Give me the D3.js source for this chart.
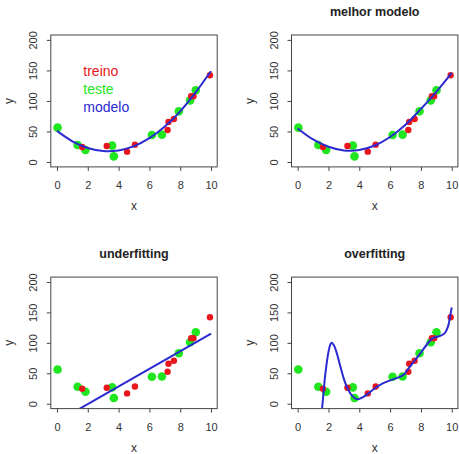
<!DOCTYPE html>
<html>
<head>
<meta charset="utf-8">
<script src="https://cdn.jsdelivr.net/npm/d3@7"></script>
<style>
    body { margin: 0; background: #fff; }
    svg { display: block; font-family: "Liberation Sans", Arial, sans-serif; }
</style>
</head>
<body>
<svg id="chart" width="459" height="454"></svg>
<script>
// dados
var treinoX = [1.64, 3.23, 4.55, 5.06, 7.18, 7.24, 7.59, 8.71, 8.86, 9.93];
var treinoY = [24.6, 26.2, 17, 28.4, 52.5, 65.6, 70.5, 107.7, 107.7, 142];
var testeX = [0.04, 1.34, 1.85, 3.58, 3.69, 6.16, 6.81, 7.91, 8.64, 9.01];
var testeY = [56.3, 27.9, 19.7, 26.8, 9.3, 44.3, 44.8, 83, 101, 117.5];

// curvas dos modelos
var modeloX = [0, 1, 2, 3, 4, 5, 6, 7, 8, 9, 10];
var modeloY = [51, 34, 23, 18, 19, 26, 39, 58, 83, 114, 149];
var melhorX = [0, 1, 2, 3, 4, 5, 6, 7, 8, 9, 10];
var melhorY = [55, 37, 25, 19, 19.5, 27, 41, 61, 87, 115, 146];
var underX = [0, 10];
var underY = [-29.5, 115];
var overX = [1.5, 1.58, 1.66, 1.75, 1.84, 1.99, 2.1, 2.2, 2.35, 2.53, 2.74, 2.96, 3.22, 3.5, 3.75, 3.95, 4.25, 4.6, 5.1, 5.66, 6.2, 6.85, 7.2, 7.6, 8.0, 8.5, 8.8, 9.2, 9.55, 9.76, 9.9, 10];
var overY = [-34, -9, 13, 38, 58, 84, 96, 100, 96, 84, 64, 44, 26, 14, 8.5, 7.5, 11, 17, 27, 35, 40, 47, 58, 71, 84, 101, 108, 111, 116, 127, 144, 158];

var xTicks = [0, 2, 4, 6, 8, 10];
var yTicks = [0, 50, 100, 150, 200];
var titulos = ['', 'melhor modelo', 'underfitting', 'overfitting'];
var legendaLabels = ['treino', 'teste', 'modelo'];

var cores = {
    treino: '#e8161c',
    teste: '#1fe61f',
    modelo: '#2a2ad0',
    texto: '#333',
    caixa: '#444'
};

var paineis = [
    { left: 50.8, right: 217.2, top: 35, bottom: 166.9, cx: modeloX, cy: modeloY, legenda: true },
    { left: 291.5, right: 457.9, top: 35, bottom: 166.9, cx: melhorX, cy: melhorY },
    { left: 50.8, right: 217.2, top: 277.1, bottom: 408.6, cx: underX, cy: underY },
    { left: 291.5, right: 457.9, top: 277.1, bottom: 408.6, cx: overX, cy: overY }
];

var svg = d3.select('#chart');

var desenhaPainel = function (p, i) {
    var x = d3.scaleLinear().domain([-0.4, 10.4]).range([p.left, p.right]),
        y = d3.scaleLinear().domain([-8, 208]).range([p.bottom, p.top]),
        g = svg.append('g'),
        clipId = 'clip' + i;

    g.append('clipPath')
        .attr('id', clipId)
        .append('rect')
        .attr('x', p.left)
        .attr('y', p.top)
        .attr('width', p.right - p.left)
        .attr('height', p.bottom - p.top);

    // eixos
    var ax = g.append('g')
        .attr('transform', 'translate(0,' + p.bottom + ')')
        .call(d3.axisBottom(x).tickValues(xTicks).tickSize(4).tickSizeOuter(0).tickPadding(0));
    ax.select('.domain').remove();
    ax.selectAll('line').attr('stroke', cores.caixa);
    ax.selectAll('text')
        .attr('y', 22)
        .attr('dy', 0)
        .attr('fill', cores.texto)
        .attr('font-size', 11);

    var ay = g.append('g')
        .attr('transform', 'translate(' + p.left + ',0)')
        .call(d3.axisLeft(y).tickValues(yTicks).tickSize(4).tickSizeOuter(0));
    ay.select('.domain').remove();
    ay.selectAll('line').attr('stroke', cores.caixa);
    ay.selectAll('text')
        .attr('x', 0)
        .attr('y', 0)
        .attr('dy', '0.35em')
        .attr('text-anchor', 'middle')
        .attr('transform', 'translate(-17.5,0) rotate(-90)')
        .attr('fill', cores.texto)
        .attr('font-size', 11);
    g.selectAll('.tick text').attr('font-family', null);

    // rotulos
    g.append('text')
        .attr('x', (p.left + p.right) / 2)
        .attr('y', p.bottom + 43)
        .attr('text-anchor', 'middle')
        .attr('font-size', 12)
        .attr('fill', cores.texto)
        .text('x');
    g.append('text')
        .attr('transform', 'translate(' + (p.left - 38) + ',' + ((p.top + p.bottom) / 2) + ') rotate(-90)')
        .attr('text-anchor', 'middle')
        .attr('font-size', 12)
        .attr('fill', cores.texto)
        .text('y');

    if (titulos[i]) {
        g.append('text')
            .attr('x', (p.left + p.right) / 2)
            .attr('y', p.top - 19.5)
            .attr('text-anchor', 'middle')
            .attr('font-size', 12.5)
            .attr('font-weight', 'bold')
            .attr('fill', '#222')
            .text(titulos[i]);
    }

    // pontos
    g.selectAll('circle.teste')
        .data(d3.range(testeX.length))
        .enter()
        .append('circle')
        .attr('class', 'teste')
        .attr('cx', function (k) { return x(testeX[k]); })
        .attr('cy', function (k) { return y(testeY[k]); })
        .attr('r', 4.3)
        .attr('fill', cores.teste);
    g.selectAll('circle.treino')
        .data(d3.range(treinoX.length))
        .enter()
        .append('circle')
        .attr('class', 'treino')
        .attr('cx', function (k) { return x(treinoX[k]); })
        .attr('cy', function (k) { return y(treinoY[k]); })
        .attr('r', 3.2)
        .attr('fill', cores.treino);

    // curva do modelo
    var linha = d3.line()
        .x(function (k) { return x(p.cx[k]); })
        .y(function (k) { return y(p.cy[k]); })
        .curve(d3.curveCatmullRom.alpha(0.5));
    g.append('path')
        .datum(d3.range(p.cx.length))
        .attr('clip-path', 'url(#' + clipId + ')')
        .attr('d', linha)
        .attr('fill', 'none')
        .attr('stroke', cores.modelo)
        .attr('stroke-width', 2);

    // caixa
    g.append('rect')
        .attr('x', p.left)
        .attr('y', p.top)
        .attr('width', p.right - p.left)
        .attr('height', p.bottom - p.top)
        .attr('fill', 'none')
        .attr('stroke', cores.caixa)
        .attr('stroke-width', 1);

    if (p.legenda) {
        var corLegenda = [cores.treino, cores.teste, cores.modelo];
        g.selectAll('text.legenda')
            .data(legendaLabels)
            .enter()
            .append('text')
            .attr('class', 'legenda')
            .attr('x', 83.3)
            .attr('y', function (d, k) { return 75.6 + k * 18.4; })
            .attr('font-size', 14)
            .attr('fill', function (d, k) { return corLegenda[k]; })
            .text(function (d) { return d; });
    }
};

paineis.forEach(desenhaPainel);
</script>
</body>
</html>
